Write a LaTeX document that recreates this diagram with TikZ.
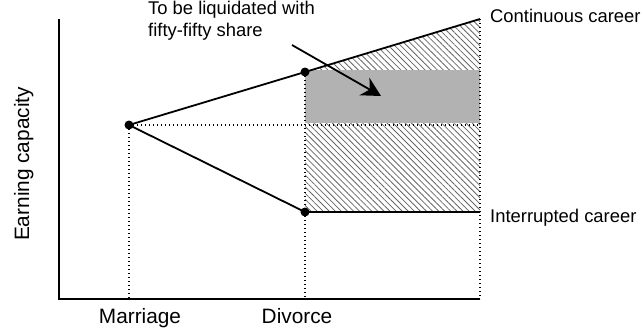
\documentclass[tikz,border=0pt]{standalone}
\usepackage{fontspec}
\setmainfont{Liberation Sans}
\usetikzlibrary{patterns.meta,arrows.meta}
\begin{document}
\begin{tikzpicture}[x=1pt,y=-1pt,
  dotnode/.style={circle,fill=black,inner sep=0pt,minimum size=9pt},
  solidline/.style={line width=1.8pt},
  dotline/.style={line width=1.4pt,dash pattern=on 1.4pt off 2.6pt},
  lbl/.style={inner sep=0pt,font=\fontsize{18.4}{21}\selectfont},
  axlbl/.style={inner sep=0pt,font=\fontsize{20.8}{24}\selectfont}]
\useasboundingbox (0,0) rectangle (643,332);
% coordinates
\coordinate (origin) at (59,299);
\coordinate (ytop) at (59,19);
\coordinate (xend) at (480,299);
\coordinate (cend) at (480,19);
\coordinate (iend) at (480,212);
\coordinate (mbase) at (129,299);
\coordinate (dbase) at (305,299);
\coordinate (hline) at (480,125);
% hatched region
\fill[pattern={Lines[angle=-45,distance=4.3pt,line width=0.8pt]},pattern color=black!60]
  (305,72) -- (480,19) -- (480,212) -- (305,212) -- cycle;
% grey box
\fill[black!30] (305,70) rectangle (480,123);
% dots
\node[dotnode] (m) at (129,125) {};
\node[dotnode] (du) at (305,72) {};
\node[dotnode] (dl) at (305,212) {};
% dotted guides
\draw[dotline] (m.center) -- (hline);
\draw[dotline] (m.center) -- (mbase);
\draw[dotline] (du.center) -- (dbase);
\draw[dotline] (cend) -- (xend);
% axes
\draw[solidline] (ytop) -- (origin) -- (xend);
% career lines
\draw[solidline] (m.center) -- (du.center) -- (cend);
\draw[solidline] (m.center) -- (dl.center) -- (iend);
% labels
\node[lbl,anchor=base west,align=left] (note) at (148,36) {To be liquidated with\\fifty-fifty share};
\coordinate (astart) at (292,45);
\coordinate (atip) at (381,96);
\draw[line width=1.8pt,-{Stealth[length=19pt,width=20pt,inset=6pt]}] (astart) -- (atip);
\node[lbl,anchor=base west] (cc) at (490,22) {Continuous career};
\node[lbl,anchor=base west] (ic) at (490,222) {Interrupted career};
\node[axlbl,anchor=base] (mar) at (140,323) {Marriage};
\node[axlbl,anchor=base] (div) at (297,323) {Divorce};
\node[axlbl,anchor=base,rotate=90] (ec) at (29,164) {Earning capacity};
\end{tikzpicture}
\end{document}
